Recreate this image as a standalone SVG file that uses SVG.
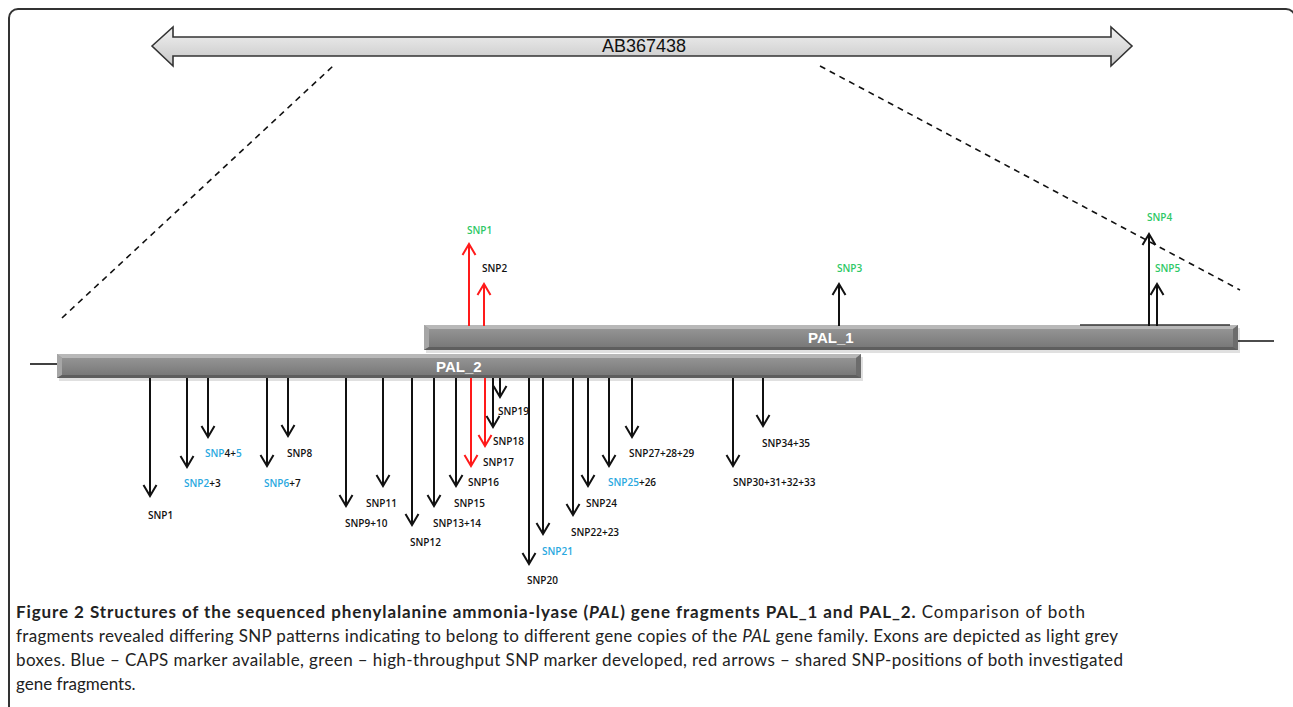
<svg xmlns="http://www.w3.org/2000/svg" width="1293" height="707" viewBox="0 0 1293 707">
<style>
.lbl{font-family:"Open Sans","Liberation Sans",sans-serif;font-size:10px;font-weight:600;fill:#111}
.g{fill:#2ec866}
.b{fill:#2aa8e0}
.k{fill:#111}
.cap{font-family:Lato,"Open Sans","Liberation Sans",sans-serif;font-size:17px;fill:#222}
.arr{stroke:#111;stroke-width:2;fill:none}
.red{stroke:#ff1a1a;stroke-width:2;fill:none}
.dash{stroke:#111;stroke-width:1.6;stroke-dasharray:6 5;fill:none}
.barTxt{font-family:"Liberation Sans",Arial,sans-serif;font-size:15px;font-weight:bold;fill:#fff}
</style>
<defs>
<linearGradient id="topArrow" x1="0" y1="0" x2="0" y2="1">
<stop offset="0" stop-color="#f2f2f2"/>
<stop offset="1" stop-color="#c6c6c6"/>
</linearGradient>
<linearGradient id="bar" x1="0" y1="0" x2="0" y2="1">
<stop offset="0" stop-color="#9a9a9a"/>
<stop offset="0.5" stop-color="#878787"/>
<stop offset="1" stop-color="#747474"/>
</linearGradient>
<marker id="hk" markerUnits="userSpaceOnUse" orient="auto" markerWidth="30" markerHeight="30" viewBox="-15 -15 30 30" refX="0" refY="0" overflow="visible">
<path d="M-11,-6.5 L0,0 L-11,6.5" fill="none" stroke="#111" stroke-width="2"/>
</marker>
<marker id="hr" markerUnits="userSpaceOnUse" orient="auto" markerWidth="30" markerHeight="30" viewBox="-15 -15 30 30" refX="0" refY="0" overflow="visible">
<path d="M-11,-6.5 L0,0 L-11,6.5" fill="none" stroke="#ff1a1a" stroke-width="2"/>
</marker>
</defs>
<rect x="0" y="0" width="1293" height="707" fill="#fff"/>
<rect x="9" y="9" width="1286" height="730" rx="9" ry="9" fill="none" stroke="#333" stroke-width="2"/>

<g id="ab367438">
<polygon points="152,46 173,27 173,37 1111,37 1111,27 1132,46 1111,66 1111,56 173,56 173,66" fill="url(#topArrow)" stroke="#333" stroke-width="1.6" stroke-linejoin="miter"/>
<text x="644" y="52" text-anchor="middle" font-family="Liberation Sans, Arial, sans-serif" font-size="18" fill="#111">AB367438</text>
</g>

<g id="zoom-lines">
<line class="dash" x1="62" y1="318" x2="333" y2="66"/>
<line class="dash" x1="820" y1="66" x2="1240" y2="290"/>
</g>

<g id="pal1">
<line x1="1236" y1="341" x2="1274" y2="341" stroke="#111" stroke-width="1.6"/>
<rect x="426" y="328" width="814" height="25" fill="#000" opacity="0.12"/>
<rect x="424" y="325" width="814" height="25" fill="url(#bar)"/>
<polygon points="424,325 1238,325 1233,329 429,329" fill="#b8b8b8"/>
<polygon points="424,325 429,329 429,347 424,350" fill="#a6a6a6"/>
<polygon points="1238,325 1233,329 1233,347 1238,350" fill="#6c6c6c"/>
<polygon points="424,350 429,347 1233,347 1238,350" fill="#5e5e5e"/>
<line x1="1080" y1="325" x2="1230" y2="325" stroke="#333" stroke-width="1.4"/>
<text class="barTxt" x="808" y="343">PAL_1</text>
</g>

<g id="pal2">
<line x1="30" y1="364" x2="59" y2="364" stroke="#111" stroke-width="1.6"/>
<rect x="59" y="357" width="804" height="24" fill="#000" opacity="0.12"/>
<rect x="57" y="354" width="804" height="24" fill="url(#bar)"/>
<polygon points="57,354 861,354 856,358 62,358" fill="#b8b8b8"/>
<polygon points="57,354 62,358 62,375 57,378" fill="#a6a6a6"/>
<polygon points="861,354 856,358 856,375 861,378" fill="#6c6c6c"/>
<polygon points="57,378 62,375 856,375 861,378" fill="#5e5e5e"/>
<text class="barTxt" x="436" y="372">PAL_2</text>
</g>

<g id="connectors">
<line class="red" x1="469" y1="326" x2="469" y2="244" marker-end="url(#hr)"/>
<line class="red" x1="484" y1="326" x2="484" y2="284" marker-end="url(#hr)"/>
<line class="arr" x1="839" y1="326" x2="839" y2="284" marker-end="url(#hk)"/>
<line class="arr" x1="1149" y1="326" x2="1149" y2="234" marker-end="url(#hk)"/>
<line class="arr" x1="1157" y1="326" x2="1157" y2="284" marker-end="url(#hk)"/>
<line class="arr" x1="150" y1="378" x2="150" y2="496" marker-end="url(#hk)"/>
<line class="arr" x1="187" y1="378" x2="187" y2="467" marker-end="url(#hk)"/>
<line class="arr" x1="208" y1="378" x2="208" y2="437" marker-end="url(#hk)"/>
<line class="arr" x1="267" y1="378" x2="267" y2="466" marker-end="url(#hk)"/>
<line class="arr" x1="288" y1="378" x2="288" y2="436" marker-end="url(#hk)"/>
<line class="arr" x1="346" y1="378" x2="346" y2="506" marker-end="url(#hk)"/>
<line class="arr" x1="383" y1="378" x2="383" y2="486" marker-end="url(#hk)"/>
<line class="arr" x1="412" y1="378" x2="412" y2="525" marker-end="url(#hk)"/>
<line class="arr" x1="434" y1="378" x2="434" y2="506" marker-end="url(#hk)"/>
<line class="arr" x1="456" y1="378" x2="456" y2="486" marker-end="url(#hk)"/>
<line class="red" x1="471" y1="378" x2="471" y2="466" marker-end="url(#hr)"/>
<line class="red" x1="485" y1="378" x2="485" y2="446" marker-end="url(#hr)"/>
<line class="arr" x1="493" y1="378" x2="493" y2="427" marker-end="url(#hk)"/>
<line class="arr" x1="500" y1="378" x2="500" y2="397" marker-end="url(#hk)"/>
<line class="arr" x1="529" y1="378" x2="529" y2="564" marker-end="url(#hk)"/>
<line class="arr" x1="543" y1="378" x2="543" y2="534" marker-end="url(#hk)"/>
<line class="arr" x1="573" y1="378" x2="573" y2="515" marker-end="url(#hk)"/>
<line class="arr" x1="588" y1="378" x2="588" y2="486" marker-end="url(#hk)"/>
<line class="arr" x1="609" y1="378" x2="609" y2="466" marker-end="url(#hk)"/>
<line class="arr" x1="632" y1="378" x2="632" y2="437" marker-end="url(#hk)"/>
<line class="arr" x1="733" y1="378" x2="733" y2="466" marker-end="url(#hk)"/>
<line class="arr" x1="763" y1="378" x2="763" y2="426" marker-end="url(#hk)"/>
</g>

<g id="labels-pal1">
<text class="lbl g" x="467" y="234">SNP1</text>
<text class="lbl k" x="482" y="272">SNP2</text>
<text class="lbl g" x="837" y="272">SNP3</text>
<text class="lbl g" x="1147" y="221">SNP4</text>
<text class="lbl g" x="1155" y="272">SNP5</text>
</g>

<g id="labels-pal2">
<text class="lbl" x="148" y="519">SNP1</text>
<text class="lbl" x="184" y="487"><tspan class="b">SNP2</tspan>+3</text>
<text class="lbl" x="205" y="457"><tspan class="b">SNP</tspan>4+<tspan class="b">5</tspan></text>
<text class="lbl" x="264" y="487"><tspan class="b">SNP6</tspan>+7</text>
<text class="lbl" x="287" y="457">SNP8</text>
<text class="lbl" x="345" y="527">SNP9+10</text>
<text class="lbl" x="366" y="507">SNP11</text>
<text class="lbl" x="410" y="546">SNP12</text>
<text class="lbl" x="433" y="527">SNP13+14</text>
<text class="lbl" x="454" y="507">SNP15</text>
<text class="lbl" x="468" y="486">SNP16</text>
<text class="lbl" x="483" y="466">SNP17</text>
<text class="lbl" x="493" y="445">SNP18</text>
<text class="lbl" x="498" y="415">SNP19</text>
<text class="lbl" x="527" y="584">SNP20</text>
<text class="lbl b" x="542" y="555">SNP21</text>
<text class="lbl" x="571" y="536">SNP22+23</text>
<text class="lbl" x="586" y="507">SNP24</text>
<text class="lbl" x="608" y="486"><tspan class="b">SNP25</tspan>+26</text>
<text class="lbl" x="629" y="457">SNP27+28+29</text>
<text class="lbl" x="733" y="486">SNP30+31+32+33</text>
<text class="lbl" x="762" y="447">SNP34+35</text>
</g>

<g id="caption">
<text class="cap" x="16" y="618" textLength="1069" lengthAdjust="spacing"><tspan font-weight="bold">Figure 2 Structures of the sequenced phenylalanine ammonia-lyase (</tspan><tspan font-weight="bold" font-style="italic">PAL</tspan><tspan font-weight="bold">) gene fragments PAL_1 and PAL_2.</tspan> Comparison of both</text>
<text class="cap" x="16" y="642" textLength="1102" lengthAdjust="spacing">fragments revealed differing SNP patterns indicating to belong to different gene copies of the <tspan font-style="italic">PAL</tspan> gene family. Exons are depicted as light grey</text>
<text class="cap" x="16" y="666" textLength="1107" lengthAdjust="spacing">boxes. Blue – CAPS marker available, green – high-throughput SNP marker developed, red arrows – shared SNP-positions of both investigated</text>
<text class="cap" x="16" y="690">gene fragments.</text>
</g>
</svg>
